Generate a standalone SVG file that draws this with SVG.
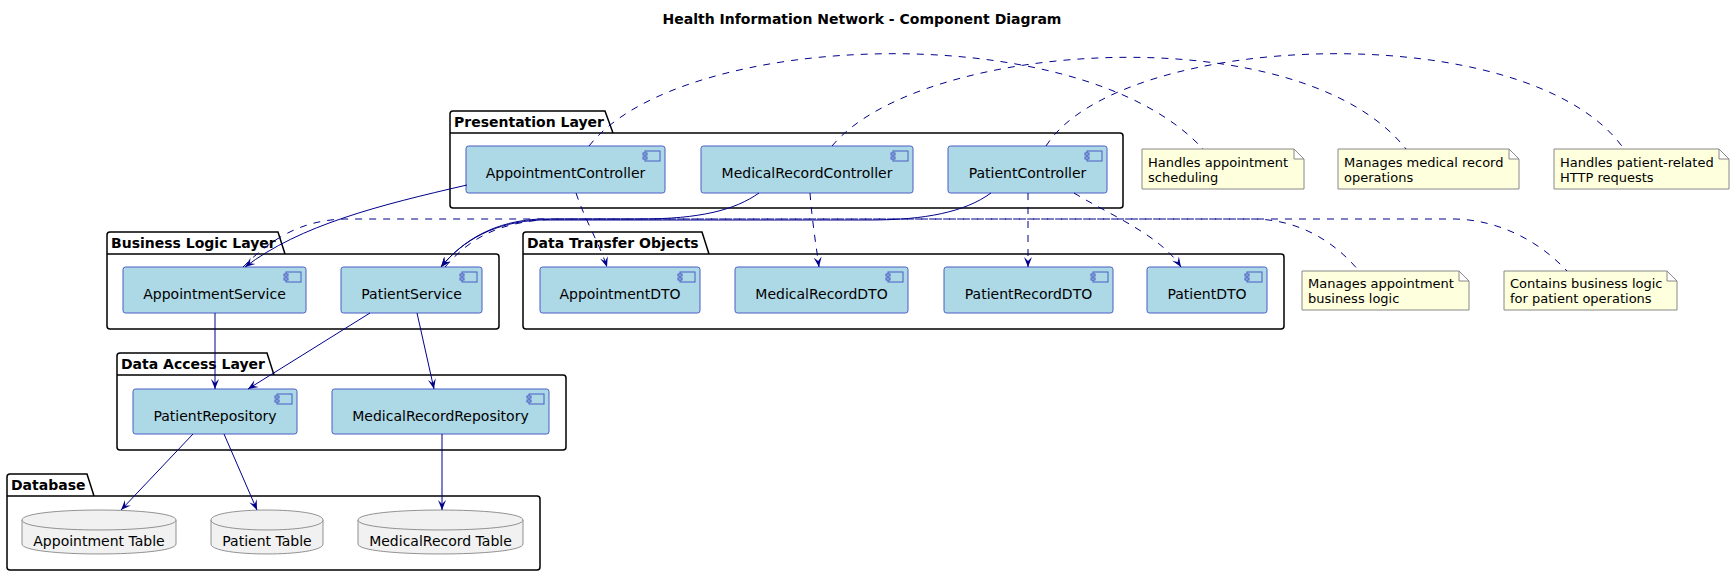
<svg xmlns="http://www.w3.org/2000/svg" xmlns:xlink="http://www.w3.org/1999/xlink" width="1735" height="576" viewBox="0 0 1735 576">
<style>
text{font-family:"DejaVu Sans","Liberation Sans",sans-serif;fill:#000}
.title{font-size:14px;font-weight:bold}
.pkg{fill:none;stroke:#000;stroke-width:1.5}
.pkgt{font-size:14px;font-weight:bold}
.comp{fill:#ADD8E6;stroke:#4A5CC4;stroke-width:1}
.ct{font-size:14px;text-anchor:middle}
.note{fill:#FEFFDD;stroke:#888;stroke-width:1}
.nt{font-size:13px}
.db{fill:#F1F1F1;stroke:#777;stroke-width:0.8}
.edge{fill:none;stroke:#00008B;stroke-width:1}
.dash{stroke-dasharray:7,7}
</style>
<defs>
<marker id="arr" viewBox="0 0 12 10" refX="11" refY="5" markerWidth="12" markerHeight="10" markerUnits="userSpaceOnUse" orient="auto">
<path d="M1,1 L11,5 L1,9 L5,5 Z" fill="#00008B"/>
</marker>
<g id="icon"><rect x="2" y="0" width="15" height="10" fill="#ADD8E6" stroke="#4A5CC4" stroke-width="1"/><rect x="0" y="2" width="4" height="2" fill="#ADD8E6" stroke="#4A5CC4" stroke-width="1"/><rect x="0" y="6" width="4" height="2" fill="#ADD8E6" stroke="#4A5CC4" stroke-width="1"/></g>
</defs>
<rect width="1735" height="576" fill="#fff"/>
<text class="title" x="862" y="24" text-anchor="middle">Health Information Network - Component Diagram</text>

<g id="pkg-presentation">
<path class="pkg" d="M450,114 Q450,111 453,111 L605,111 L613,133 L1120,133 Q1123,133 1123,136 L1123,205 Q1123,208 1120,208 L453,208 Q450,208 450,205 Z M450,133 L613,133"/>
<text class="pkgt" x="454" y="127">Presentation Layer</text>
</g>
<g id="pkg-business">
<path class="pkg" d="M107,235 Q107,232 110,232 L278,232 L285,254 L496,254 Q499,254 499,257 L499,326 Q499,329 496,329 L110,329 Q107,329 107,326 Z M107,254 L285,254"/>
<text class="pkgt" x="111" y="248">Business Logic Layer</text>
</g>
<g id="pkg-dto">
<path class="pkg" d="M523,235 Q523,232 526,232 L702,232 L709,254 L1281,254 Q1284,254 1284,257 L1284,326 Q1284,329 1281,329 L526,329 Q523,329 523,326 Z M523,254 L709,254"/>
<text class="pkgt" x="527" y="248">Data Transfer Objects</text>
</g>
<g id="pkg-dataaccess">
<path class="pkg" d="M117,356 Q117,353 120,353 L267,353 L274,375 L563,375 Q566,375 566,378 L566,447 Q566,450 563,450 L120,450 Q117,450 117,447 Z M117,375 L274,375"/>
<text class="pkgt" x="121" y="369">Data Access Layer</text>
</g>
<g id="pkg-database">
<path class="pkg" d="M7,477 Q7,474 10,474 L87,474 L94,496 L537,496 Q540,496 540,499 L540,567 Q540,570 537,570 L10,570 Q7,570 7,567 Z M7,496 L94,496"/>
<text class="pkgt" x="11" y="490">Database</text>
</g>

<g id="AppointmentController"><rect class="comp" x="466" y="146" width="199" height="47" rx="2.5"/><use href="#icon" x="643" y="151"/><text class="ct" x="565.5" y="178">AppointmentController</text></g>
<g id="MedicalRecordController"><rect class="comp" x="701" y="146" width="212" height="47" rx="2.5"/><use href="#icon" x="891" y="151"/><text class="ct" x="807" y="178">MedicalRecordController</text></g>
<g id="PatientController"><rect class="comp" x="948" y="146" width="159" height="47" rx="2.5"/><use href="#icon" x="1085" y="151"/><text class="ct" x="1027.5" y="178">PatientController</text></g>

<g id="AppointmentService"><rect class="comp" x="123" y="267" width="183" height="46" rx="2.5"/><use href="#icon" x="284" y="272"/><text class="ct" x="214.5" y="299">AppointmentService</text></g>
<g id="PatientService"><rect class="comp" x="341" y="267" width="141" height="46" rx="2.5"/><use href="#icon" x="460" y="272"/><text class="ct" x="411.5" y="299">PatientService</text></g>

<g id="AppointmentDTO"><rect class="comp" x="540" y="267" width="160" height="46" rx="2.5"/><use href="#icon" x="678" y="272"/><text class="ct" x="620" y="299">AppointmentDTO</text></g>
<g id="MedicalRecordDTO"><rect class="comp" x="735" y="267" width="173" height="46" rx="2.5"/><use href="#icon" x="886" y="272"/><text class="ct" x="821.5" y="299">MedicalRecordDTO</text></g>
<g id="PatientRecordDTO"><rect class="comp" x="944" y="267" width="169" height="46" rx="2.5"/><use href="#icon" x="1091" y="272"/><text class="ct" x="1028.5" y="299">PatientRecordDTO</text></g>
<g id="PatientDTO"><rect class="comp" x="1147" y="267" width="120" height="46" rx="2.5"/><use href="#icon" x="1245" y="272"/><text class="ct" x="1207" y="299">PatientDTO</text></g>

<g id="PatientRepository"><rect class="comp" x="133" y="389" width="164" height="45" rx="2.5"/><use href="#icon" x="275" y="394"/><text class="ct" x="215" y="421">PatientRepository</text></g>
<g id="MedicalRecordRepository"><rect class="comp" x="332" y="389" width="217" height="45" rx="2.5"/><use href="#icon" x="527" y="394"/><text class="ct" x="440.5" y="421">MedicalRecordRepository</text></g>

<g id="AppointmentTable"><path class="db" d="M22,520 C22,506.7 176,506.7 176,520 L176,544 C176,557.3 22,557.3 22,544 Z"/><path class="db" fill="none" d="M22,520 C22,533.3 176,533.3 176,520"/><text class="ct" x="99" y="546">Appointment Table</text></g>
<g id="PatientTable"><path class="db" d="M211,520 C211,506.7 323,506.7 323,520 L323,544 C323,557.3 211,557.3 211,544 Z"/><path class="db" fill="none" d="M211,520 C211,533.3 323,533.3 323,520"/><text class="ct" x="267" y="546">Patient Table</text></g>
<g id="MedicalRecordTable"><path class="db" d="M358,520 C358,506.7 523,506.7 523,520 L523,544 C523,557.3 358,557.3 358,544 Z"/><path class="db" fill="none" d="M358,520 C358,533.3 523,533.3 523,520"/><text class="ct" x="440.5" y="546">MedicalRecord Table</text></g>

<g id="note-appt-ctrl"><path class="note" d="M1142,149 L1294,149 L1304,159 L1304,189 L1142,189 Z M1294,149 L1294,159 L1304,159"/><text class="nt" x="1148" y="167">Handles appointment</text><text class="nt" x="1148" y="182">scheduling</text></g>
<g id="note-mr-ctrl"><path class="note" d="M1338,149 L1509,149 L1519,159 L1519,189 L1338,189 Z M1509,149 L1509,159 L1519,159"/><text class="nt" x="1344" y="167">Manages medical record</text><text class="nt" x="1344" y="182">operations</text></g>
<g id="note-pat-ctrl"><path class="note" d="M1554,149 L1719,149 L1729,159 L1729,189 L1554,189 Z M1719,149 L1719,159 L1729,159"/><text class="nt" x="1560" y="167">Handles patient-related</text><text class="nt" x="1560" y="182">HTTP requests</text></g>
<g id="note-appt-svc"><path class="note" d="M1302,271 L1459,271 L1469,281 L1469,310 L1302,310 Z M1459,271 L1459,281 L1469,281"/><text class="nt" x="1308" y="288">Manages appointment</text><text class="nt" x="1308" y="303">business logic</text></g>
<g id="note-pat-svc"><path class="note" d="M1504,271 L1667,271 L1677,281 L1677,310 L1504,310 Z M1667,271 L1667,281 L1677,281"/><text class="nt" x="1510" y="288">Contains business logic</text><text class="nt" x="1510" y="303">for patient operations</text></g>

<g id="connectors">
<path class="edge" d="M467,185 C380,205 300,225 245,267" marker-end="url(#arr)"/>
<path class="edge" d="M759,193 C735,210 700,219 640,219 L540,219 C495,221 463,240 441,267" marker-end="url(#arr)"/>
<path class="edge" d="M991,193 C965,212 925,220 870,220 L540,220 C495,222 463,240 441,267" marker-end="url(#arr)"/>
<path class="edge dash" d="M576,193 C585,220 600,245 607,267" marker-end="url(#arr)"/>
<path class="edge dash" d="M810,193 C812,220 816,245 819,267" marker-end="url(#arr)"/>
<path class="edge dash" d="M1028,193 L1028,267" marker-end="url(#arr)"/>
<path class="edge dash" d="M1074,193 C1110,215 1160,235 1181,267" marker-end="url(#arr)"/>
<path class="edge" d="M215,313 L215,389" marker-end="url(#arr)"/>
<path class="edge" d="M370,313 L248,389" marker-end="url(#arr)"/>
<path class="edge" d="M417,313 L434,389" marker-end="url(#arr)"/>
<path class="edge" d="M193,434 L121,510" marker-end="url(#arr)"/>
<path class="edge" d="M224,434 L257,510" marker-end="url(#arr)"/>
<path class="edge" d="M442,434 L442,510" marker-end="url(#arr)"/>
<path class="edge dash" d="M589,146 C680,30 1080,15 1203,149"/>
<path class="edge dash" d="M832,146 C920,40 1300,15 1406,149"/>
<path class="edge dash" d="M1046,146 C1120,30 1530,15 1624,149"/>
<path class="edge dash" d="M243,267 C270,240 300,220 345,219 L1255,219 C1300,220 1335,242 1359,271"/>
<path class="edge dash" d="M445,267 C470,238 500,220 560,219 L1455,219 C1500,220 1540,242 1567,271"/>
</g>
</svg>
